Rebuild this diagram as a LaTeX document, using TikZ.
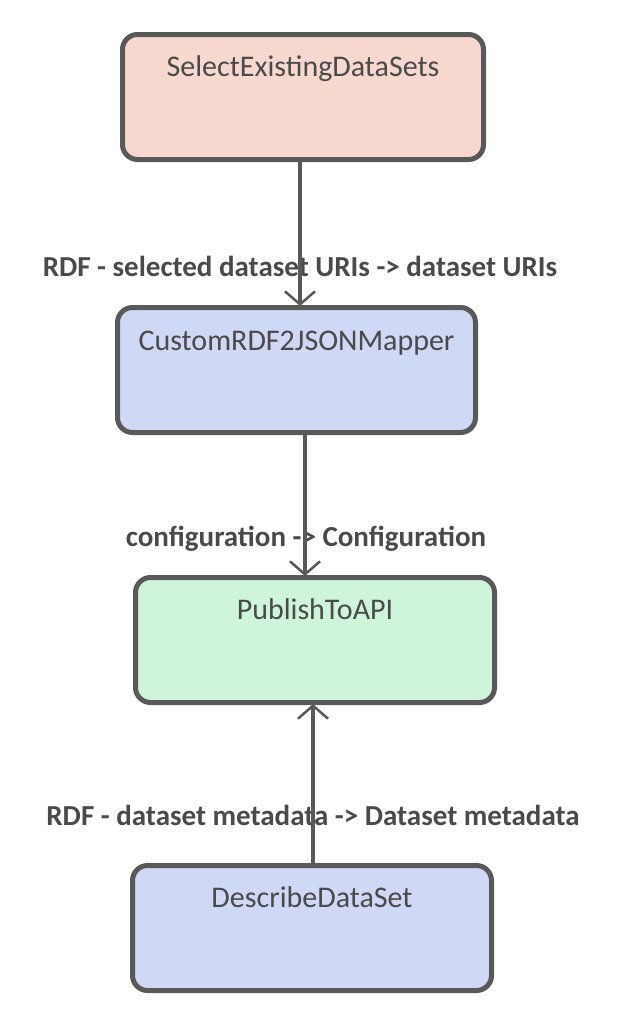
\documentclass[tikz,border=0pt]{standalone}
\usepackage{fontspec}
\setmainfont{Carlito}
\usetikzlibrary{arrows.meta,shadows}
\definecolor{bordergray}{HTML}{595959}
\definecolor{textgray}{HTML}{4A4A4A}
\definecolor{pinkfill}{HTML}{F7D8CF}
\definecolor{bluefill}{HTML}{CFD8F5}
\definecolor{greenfill}{HTML}{CEF5D9}
\tikzset{
  actbox/.style={draw=bordergray, line width=5pt, rounded corners=15pt,
    minimum width=#1, minimum height=125pt, inner sep=0pt,
    drop shadow={shadow xshift=2pt, shadow yshift=-2pt, fill=black, opacity=0.12}},
  title/.style={anchor=base, text=textgray, font=\fontsize{30}{34}\selectfont, inner sep=0pt},
  flowlabel/.style={anchor=base, text=textgray, font=\bfseries\fontsize{29}{34}\selectfont, inner sep=0pt},
  flow/.style={draw=bordergray, line width=4pt,
    -{Straight Barb[length=13pt, width=30pt, line width=2.5pt]}},
}
\begin{document}
\begin{tikzpicture}[x=1pt,y=-1pt]
\useasboundingbox (0,0) rectangle (626,1018);
\node[actbox=361pt, fill=pinkfill] (sel) at (303,97) {};
\node[actbox=358pt, fill=bluefill] (map) at (296.5,370) {};
\node[actbox=359pt, fill=greenfill] (pub) at (315,640) {};
\node[actbox=359pt, fill=bluefill] (des) at (312,928) {};
\node[title] (selt) at (303,76) {SelectExistingDataSets};
\node[title] (mapt) at (296.5,350) {CustomRDF2JSONMapper};
\node[title] (pubt) at (315,619) {PublishToAPI};
\node[title] (dest) at (312,907) {DescribeDataSet};
\node[flowlabel] (l1) at (300,276) {RDF - selected dataset URIs -> dataset URIs};
\node[flowlabel] (l2) at (306,546) {configuration -> Configuration};
\node[flowlabel] (l3) at (313,825) {RDF - dataset metadata -> Dataset metadata};
\coordinate (x1) at (300,0);
\coordinate (x2) at (305,0);
\coordinate (x3) at (313,0);
\draw[flow] (sel.south -| x1) -- ([yshift=-1pt]map.north -| x1);
\draw[flow] (map.south -| x2) -- ([yshift=-1pt]pub.north -| x2);
\draw[flow] (des.north -| x3) -- ([yshift=1pt]pub.south -| x3);
\end{tikzpicture}
\end{document}
